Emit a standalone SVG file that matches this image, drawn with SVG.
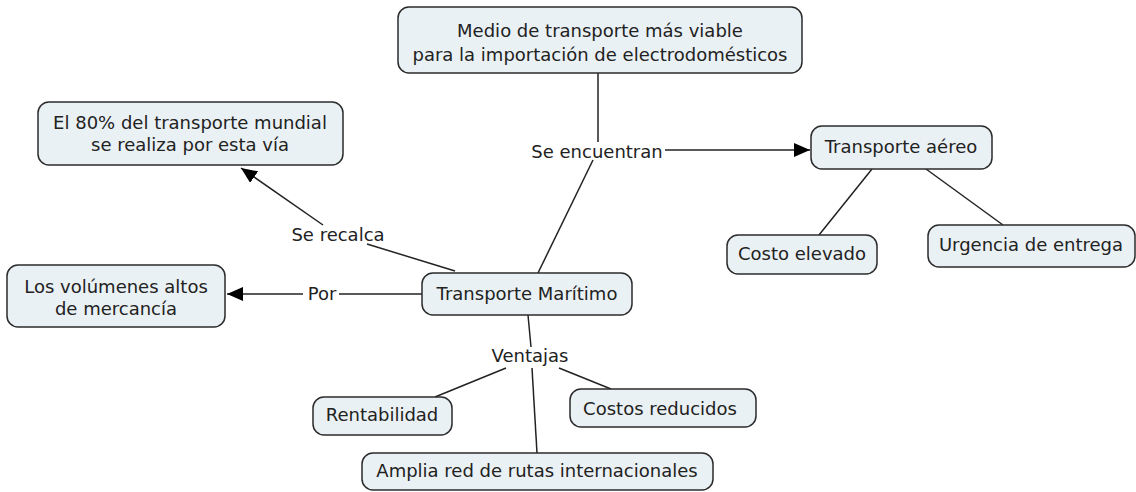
<svg xmlns="http://www.w3.org/2000/svg" width="1136" height="492" viewBox="0 0 1136 492">
<style>
.n rect{fill:#eaf1f4;stroke:#2b2b2b;stroke-width:1.5}
text{font-family:"DejaVu Sans",Verdana,sans-serif;font-size:18px;fill:#222;text-anchor:middle}
.c line{stroke:#222;stroke-width:1.5}
</style>
<defs>
<marker id="ah" markerWidth="16" markerHeight="14" refX="16" refY="7" orient="auto" markerUnits="userSpaceOnUse">
<path d="M0,0 L16,7 L0,14 Z" fill="#000"/>
</marker>
</defs>
<rect width="1136" height="492" fill="#fff"/>
<g class="c" id="connectors">
<line x1="598" y1="73" x2="598" y2="142"/>
<line x1="593" y1="160" x2="538" y2="273"/>
<line x1="665" y1="150" x2="810" y2="150" marker-end="url(#ah)"/>
<line x1="323" y1="225" x2="241" y2="168" marker-end="url(#ah)"/>
<line x1="367" y1="244" x2="455" y2="271"/>
<line x1="422" y1="294" x2="339" y2="294"/>
<line x1="303" y1="294" x2="227" y2="294" marker-end="url(#ah)"/>
<line x1="528" y1="315" x2="531" y2="347"/>
<line x1="506" y1="368" x2="435" y2="397"/>
<line x1="559" y1="368" x2="611" y2="389"/>
<line x1="532" y1="368" x2="537" y2="453"/>
<line x1="872" y1="169" x2="819" y2="235"/>
<line x1="926" y1="169" x2="1003" y2="225"/>
<text x="597" y="158">Se encuentran</text>
<text x="338" y="241">Se recalca</text>
<text x="322" y="300">Por</text>
<text x="530" y="362">Ventajas</text>
</g>
<g class="n" id="n-medio">
<rect x="398" y="7" width="404" height="66" rx="11"/>
<text x="600" y="37">Medio de transporte más viable</text>
<text x="600" y="61">para la importación de electrodomésticos</text>
</g>
<g class="n" id="n-80">
<rect x="38" y="102" width="305" height="63" rx="11"/>
<text x="190" y="129">El 80% del transporte mundial</text>
<text x="190" y="151">se realiza por esta vía</text>
</g>
<g class="n" id="n-volumenes">
<rect x="7" y="265" width="218" height="62" rx="11"/>
<text x="116" y="293">Los volúmenes altos</text>
<text x="116" y="315">de mercancía</text>
</g>
<g class="n" id="n-maritimo">
<rect x="422" y="273" width="210" height="42" rx="11"/>
<text x="527" y="300">Transporte Marítimo</text>
</g>
<g class="n" id="n-aereo">
<rect x="811" y="126" width="181" height="43" rx="11"/>
<text x="901" y="153">Transporte aéreo</text>
</g>
<g class="n" id="n-costo">
<rect x="727" y="235" width="150" height="39" rx="11"/>
<text x="802" y="260">Costo elevado</text>
</g>
<g class="n" id="n-urgencia">
<rect x="928" y="225" width="207" height="42" rx="11"/>
<text x="1031" y="251">Urgencia de entrega</text>
</g>
<g class="n" id="n-costos">
<rect x="570" y="389" width="186" height="38" rx="11"/>
<text x="660" y="415">Costos reducidos</text>
</g>
<g class="n" id="n-rentabilidad">
<rect x="313" y="397" width="139" height="38" rx="11"/>
<text x="382" y="421">Rentabilidad</text>
</g>
<g class="n" id="n-amplia">
<rect x="362" y="453" width="351" height="37" rx="11"/>
<text x="537" y="477">Amplia red de rutas internacionales</text>
</g>
</svg>
